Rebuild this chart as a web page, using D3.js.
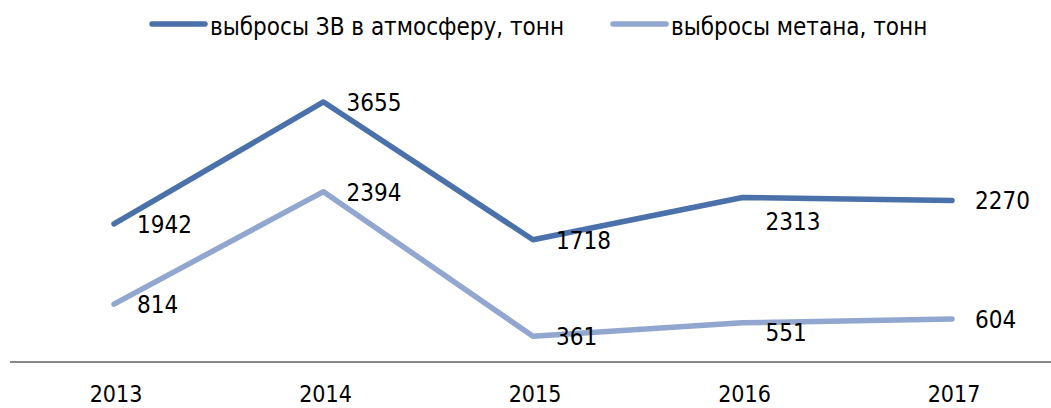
<!DOCTYPE html>
<html lang="ru">
<head>
  <meta charset="UTF-8">
  <title>Выбросы</title>
  <script src="https://d3js.org/d3.v7.min.js"></script>
  <style>
    body { margin: 0; background: #fff; }
    svg text {
      font-family: "Liberation Sans Narrow", "DejaVu Sans Condensed", "Liberation Sans", sans-serif;
      font-size: 24px;
      fill: #000;
    }
    svg text.year { font-size: 23px; }
  </style>
</head>
<body>
  <svg id="chart" width="1051" height="408"></svg>
  <script>
    // данные
    const years = ["2013", "2014", "2015", "2016", "2017"];
    const emissions = [1942, 3655, 1718, 2313, 2270];
    const methane = [814, 2394, 361, 551, 604];
    const seriesNames = ["выбросы ЗВ в атмосферу, тонн", "выбросы метана, тонн"];
    const seriesColors = ["#4a71a9", "#91a7cf"];

    // ручные сдвиги подписей (как в исходной диаграмме)
    const labelShift = [
      [[0, 0], [0, 0], [0, 0], [0, 24], [0, 0]],
      [[0, 0], [0, 0], [0, 0], [0, 9], [0, 0]]
    ];

    const svg = d3.select("#chart");

    const x = d3.scalePoint().domain(years).range([114, 952]);
    const y = d3.scaleLinear().domain([0, 4000]).range([362, 77.4]);

    // ось X
    svg.append("line")
      .attr("x1", 10).attr("x2", 1051)
      .attr("y1", y(0)).attr("y2", y(0))
      .attr("stroke", "#878787")
      .attr("stroke-width", 2);

    svg.selectAll(".year")
      .data(years)
      .enter().append("text")
      .attr("class", "year")
      .attr("x", d => x(d) + 2)
      .attr("y", 402)
      .attr("text-anchor", "middle")
      .text(d => d);

    const line = d3.line()
      .x((d, i) => x(years[i]))
      .y(d => y(d));

    [emissions, methane].forEach((vals, s) => {
      svg.append("path")
        .datum(vals)
        .attr("d", line)
        .attr("fill", "none")
        .attr("stroke", seriesColors[s])
        .attr("stroke-width", 5.5)
        .attr("stroke-linejoin", "round")
        .attr("stroke-linecap", "round");

      svg.selectAll(".lbl" + s)
        .data(vals)
        .enter().append("text")
        .attr("class", "lbl" + s)
        .attr("x", (d, i) => x(years[i]) + 23 + labelShift[s][i][0])
        .attr("y", (d, i) => y(d) + 2 + labelShift[s][i][1])
        .attr("dominant-baseline", "middle")
        .text(d => d);
    });

    // легенда
    const legendX = [152, 613];
    seriesNames.forEach((name, s) => {
      svg.append("line")
        .attr("x1", legendX[s]).attr("x2", legendX[s] + 53)
        .attr("y1", 24).attr("y2", 24)
        .attr("stroke", seriesColors[s])
        .attr("stroke-width", 5.5)
        .attr("stroke-linecap", "round");
      svg.append("text")
        .attr("x", legendX[s] + 58)
        .attr("y", 35)
        .text(name);
    });
  </script>
</body>
</html>
